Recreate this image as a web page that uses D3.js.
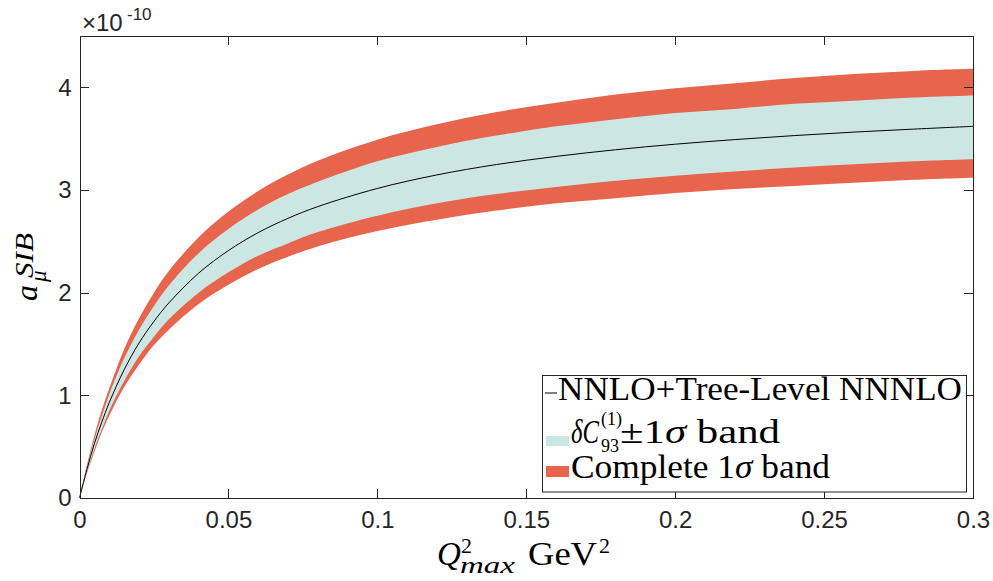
<!DOCTYPE html>
<meta charset="utf-8">
<style>
body { margin: 0; background: #fff; }
.axis path, .axis line { fill: none; stroke: #262626; stroke-width: 1; shape-rendering: crispEdges; }
.axis text { font-family: "Liberation Sans", Arial, Helvetica, sans-serif; font-size: 24px; fill: #262626; }
.tex { font-family: "Liberation Serif", "Times New Roman", serif; fill: #000; }
</style>
<body>
<div id="vis-container"></div>
<script src="https://cdn.jsdelivr.net/npm/d3@7"></script>
<script>

// values (units of 1e-10)
var qVals   = [0, 0.0025, 0.005, 0.0075, 0.01, 0.015, 0.02, 0.025, 0.03, 0.04, 0.05, 0.06, 0.07, 0.08, 0.1, 0.12, 0.14, 0.16, 0.18, 0.2, 0.22, 0.24, 0.26, 0.28, 0.3];
var central = [0, 0.28, 0.53, 0.74, 0.93, 1.25, 1.51, 1.72, 1.90, 2.19, 2.41, 2.585, 2.724, 2.838, 3.015, 3.147, 3.248, 3.327, 3.392, 3.446, 3.491, 3.53, 3.564, 3.593, 3.62];
var innerHi = [0, 0.305, 0.57, 0.80, 1.01, 1.36, 1.64, 1.87, 2.07, 2.385, 2.62, 2.81, 2.96, 3.08, 3.28, 3.42, 3.53, 3.62, 3.69, 3.75, 3.79, 3.84, 3.87, 3.90, 3.92];
var innerLo = [0, 0.256, 0.48, 0.67, 0.85, 1.14, 1.38, 1.57, 1.74, 2.00, 2.198, 2.36, 2.48, 2.59, 2.75, 2.87, 2.96, 3.03, 3.09, 3.14, 3.18, 3.22, 3.25, 3.28, 3.30];
var outerHi = [0, 0.325, 0.61, 0.86, 1.07, 1.45, 1.75, 2.00, 2.21, 2.54, 2.79, 2.99, 3.15, 3.285, 3.49, 3.64, 3.76, 3.85, 3.93, 3.99, 4.04, 4.09, 4.13, 4.16, 4.18];
var outerLo = [0, 0.242, 0.45, 0.64, 0.80, 1.08, 1.30, 1.49, 1.64, 1.89, 2.077, 2.23, 2.35, 2.45, 2.60, 2.71, 2.80, 2.87, 2.92, 2.97, 3.01, 3.04, 3.07, 3.10, 3.12];

var xTicks = [0, 0.05, 0.1, 0.15, 0.2, 0.25, 0.3];
var xTickLabels = ["0", "0.05", "0.1", "0.15", "0.2", "0.25", "0.3"];
var yTicks = [0, 1, 2, 3, 4];

var red = "#e6654c", cyan = "#cce6e4";

var W = 993, H = 581;
var mLeft = 79.5, mRight = 973, mTop = 36, mBottom = 498;

var svg = d3.select("#vis-container").append("svg")
  .attr("width", W).attr("height", H);

var x = d3.scaleLinear().domain([0, 0.3]).range([mLeft, mRight]);
var y = d3.scaleLinear().domain([0, 4.5]).range([mBottom, mTop]);

var rows = qVals.map(function(q, i) {
  return {q: q, c: central[i], iL: innerLo[i], iH: innerHi[i], oL: outerLo[i], oH: outerHi[i]};
});

var curve = d3.curveCatmullRom.alpha(0.5);

// bands
svg.append("path").datum(rows)
  .attr("fill", red)
  .attr("d", d3.area().x(function(d) { return x(d.q); })
    .y0(function(d) { return y(d.oL); }).y1(function(d) { return y(d.oH); })
    .curve(curve));

svg.append("path").datum(rows)
  .attr("fill", cyan)
  .attr("d", d3.area().x(function(d) { return x(d.q); })
    .y0(function(d) { return y(d.iL); }).y1(function(d) { return y(d.iH); })
    .curve(curve));

svg.append("path").datum(rows)
  .attr("fill", "none").attr("stroke", "#000").attr("stroke-width", 1)
  .attr("d", d3.line().x(function(d) { return x(d.q); }).y(function(d) { return y(d.c); })
    .curve(curve));

// axes (ticks inward, box all round)
svg.append("g").attr("class", "axis")
  .attr("transform", "translate(0," + mBottom + ")")
  .call(d3.axisBottom(x).tickValues(xTicks).tickSizeInner(-9).tickSizeOuter(0).tickPadding(13)
    .tickFormat(function(d, i) { return xTickLabels[i]; }));

svg.append("g").attr("class", "axis")
  .attr("transform", "translate(0," + mTop + ")")
  .call(d3.axisTop(x).tickValues(xTicks).tickSizeInner(-9).tickSizeOuter(0).tickFormat(""));

svg.append("g").attr("class", "axis")
  .attr("transform", "translate(" + mLeft + ",0)")
  .call(d3.axisLeft(y).tickValues(yTicks).tickSizeInner(-9).tickSizeOuter(0).tickPadding(8)
    .tickFormat(d3.format("d")));

svg.append("g").attr("class", "axis")
  .attr("transform", "translate(" + mRight + ",0)")
  .call(d3.axisRight(y).tickValues(yTicks).tickSizeInner(-9).tickSizeOuter(0).tickFormat(""));

// exponent label
svg.append("text").attr("x", 82).attr("y", 31)
  .style("font-family", "'Liberation Sans', Arial, sans-serif").style("font-size", "24px").style("fill", "#262626")
  .text("\u00d710");
svg.append("text").attr("x", 127).attr("y", 19.5)
  .style("font-family", "'Liberation Sans', Arial, sans-serif").style("font-size", "17px").style("fill", "#262626")
  .text("-10");

// y label  a_mu^SIB
var yl = svg.append("g").attr("transform", "translate(37,301) rotate(-90)");
yl.append("text").attr("class", "tex").attr("x", 0).attr("y", 0)
  .style("font-size", "32px").style("font-style", "italic").text("a");
yl.append("text").attr("class", "tex").attr("x", 19).attr("y", 9)
  .style("font-size", "23px").style("font-style", "italic").text("\u03bc");
yl.append("text").attr("class", "tex").attr("x", 23).attr("y", -4)
  .attr("textLength", 45).attr("lengthAdjust", "spacingAndGlyphs")
  .style("font-size", "26px").style("font-style", "italic").text("SIB");

// x label  Q^2_max GeV^2
var xl = svg.append("g");
xl.append("text").attr("class", "tex").attr("x", 437).attr("y", 565)
  .style("font-size", "33px").style("font-style", "italic").text("Q");
xl.append("text").attr("class", "tex").attr("x", 461).attr("y", 553)
  .style("font-size", "22px").text("2");
xl.append("text").attr("class", "tex").attr("x", 460).attr("y", 573)
  .attr("textLength", 55).attr("lengthAdjust", "spacingAndGlyphs")
  .style("font-size", "23px").style("font-style", "italic").text("max");
xl.append("text").attr("class", "tex").attr("x", 528).attr("y", 565)
  .attr("textLength", 69).attr("lengthAdjust", "spacingAndGlyphs")
  .style("font-size", "33px").text("GeV");
xl.append("text").attr("class", "tex").attr("x", 599).attr("y", 553)
  .style("font-size", "22px").text("2");

// legend
var lg = svg.append("g");
lg.append("rect").attr("x", 542.5).attr("y", 375.5).attr("width", 424).attr("height", 116.5)
  .attr("fill", "#fff").attr("stroke", "#262626").attr("stroke-width", 1);

lg.append("line").attr("x1", 545).attr("x2", 557).attr("y1", 393).attr("y2", 393)
  .attr("stroke", "#000").attr("stroke-width", 1);
lg.append("text").attr("class", "tex").attr("x", 558).attr("y", 400)
  .attr("textLength", 404).attr("lengthAdjust", "spacingAndGlyphs")
  .style("font-size", "33px").text("NNLO+Tree-Level NNNLO");

lg.append("rect").attr("x", 546).attr("y", 436).attr("width", 23).attr("height", 10).attr("fill", cyan);
lg.append("text").attr("class", "tex").attr("x", 571).attr("y", 443)
  .attr("textLength", 28).attr("lengthAdjust", "spacingAndGlyphs")
  .style("font-size", "33px").style("font-style", "italic").text("\u03b4C");
lg.append("text").attr("class", "tex").attr("x", 601).attr("y", 425)
  .style("font-size", "18px").text("(1)");
lg.append("text").attr("class", "tex").attr("x", 601).attr("y", 452)
  .style("font-size", "18px").text("93");
var t2 = lg.append("text").attr("class", "tex").attr("x", 620).attr("y", 443)
  .attr("textLength", 160).attr("lengthAdjust", "spacingAndGlyphs")
  .style("font-size", "33px");
t2.append("tspan").text("\u00b11");
t2.append("tspan").style("font-style", "italic").text("\u03c3");
t2.append("tspan").text(" band");

lg.append("rect").attr("x", 546).attr("y", 466).attr("width", 23).attr("height", 11).attr("fill", red);
var t3 = lg.append("text").attr("class", "tex").attr("x", 571).attr("y", 478)
  .attr("textLength", 259).attr("lengthAdjust", "spacingAndGlyphs")
  .style("font-size", "33px");
t3.append("tspan").text("Complete 1");
t3.append("tspan").style("font-style", "italic").text("\u03c3");
t3.append("tspan").text(" band");

</script>
</body>
</html>
